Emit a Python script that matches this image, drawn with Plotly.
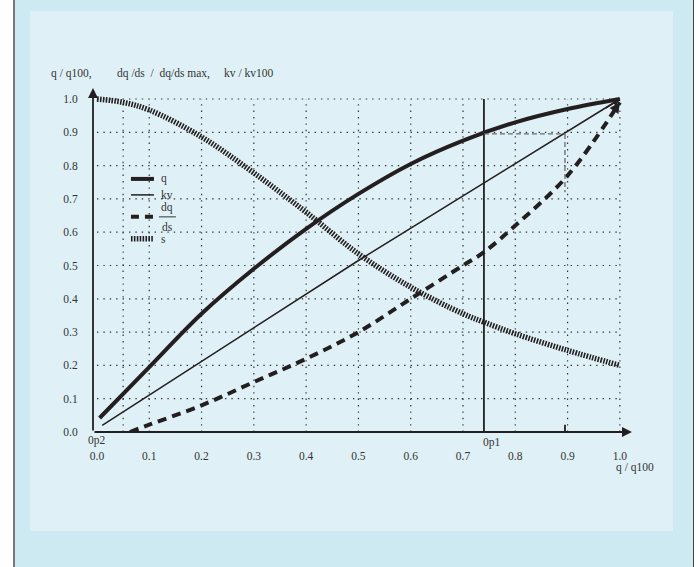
import plotly.graph_objects as go

# ---------------- data ----------------
tick_vals = [0.0, 0.1, 0.2, 0.3, 0.4, 0.5, 0.6, 0.7, 0.8, 0.9, 1.0]
tick_text = ["0.0", "0.1", "0.2", "0.3", "0.4", "0.5", "0.6", "0.7", "0.8", "0.9", "1.0"]
extra_vgrid = [0.05]

q_x = [0.005, 0.1, 0.2, 0.3, 0.4, 0.5, 0.6, 0.7, 0.8, 0.9, 1.0]
q_y = [0.042, 0.195, 0.355, 0.49, 0.61, 0.715, 0.805, 0.875, 0.93, 0.97, 1.0]

kv_x = [0.01, 0.5, 1.0]
kv_y = [0.02, 0.515, 1.0]

dq_x = [0.063, 0.1, 0.2, 0.3, 0.4, 0.5, 0.6, 0.7, 0.74, 0.8, 0.9, 1.0]
dq_y = [0.0, 0.022, 0.08, 0.15, 0.22, 0.30, 0.40, 0.50, 0.54, 0.62, 0.77, 0.99]

s_x = [0.0, 0.05, 0.1, 0.2, 0.3, 0.4, 0.5, 0.6, 0.7, 0.74, 0.8, 0.9, 1.0]
s_y = [1.0, 0.99, 0.967, 0.886, 0.778, 0.66, 0.535, 0.435, 0.355, 0.33, 0.295, 0.245, 0.2]

op1_x = 0.74          # operating point 1
op_q = 0.895          # q at op1
op_x2 = 0.895         # second marker on x axis
op_dq = 0.72

legend_names = ["q", "kv", "dq/ds", "s"]

# ---------------- style ----------------
INK = "#231f20"
TXT = "#333333"
FONT = "Liberation Serif"
W, H = 698, 567
L, R, T, B = 93, 64, 86, 135
PW, PH = W - L - R, H - T - B


def px(xp):
    return (xp - L) / PW


def py(yp):
    return (H - B - yp) / PH


fig = go.Figure()

# curves
fig.add_trace(go.Scatter(x=s_x, y=s_y, mode="lines", hoverinfo="skip",
                         line=dict(color=INK, width=5.5, dash="1.6px,1.3px", shape="spline")))
fig.add_trace(go.Scatter(x=kv_x, y=kv_y, mode="lines", hoverinfo="skip",
                         line=dict(color=INK, width=1.5)))
fig.add_trace(go.Scatter(x=dq_x, y=dq_y, mode="lines", hoverinfo="skip",
                         line=dict(color=INK, width=4, dash="9px,6px", shape="spline")))
fig.add_trace(go.Scatter(x=q_x, y=q_y, mode="lines", hoverinfo="skip",
                         line=dict(color=INK, width=4, shape="spline")))

shapes = []
# backgrounds
shapes.append(dict(type="rect", xref="paper", yref="paper", layer="below",
                   x0=px(13), x1=px(694), y0=py(0), y1=py(567),
                   fillcolor="#cdeaf3", line=dict(width=0)))
shapes.append(dict(type="rect", xref="paper", yref="paper", layer="below",
                   x0=px(30), x1=px(673), y0=py(11), y1=py(531),
                   fillcolor="#dff1f6", line=dict(width=0)))
shapes.append(dict(type="line", xref="paper", yref="paper", layer="below",
                   x0=px(14), x1=px(14), y0=py(0), y1=py(567),
                   line=dict(color="#7a7a7a", width=2)))
shapes.append(dict(type="line", xref="paper", yref="paper", layer="below",
                   x0=px(693.5), x1=px(693.5), y0=py(0), y1=py(567),
                   line=dict(color="#444444", width=1)))

# grid
grid_line = dict(color="#333333", width=1.2, dash="1.4px,5px")
for v in tick_vals[1:]:
    shapes.append(dict(type="line", xref="x", yref="y", layer="below",
                       x0=0, x1=1.0, y0=v, y1=v, line=grid_line))
for v in extra_vgrid + tick_vals[1:]:
    shapes.append(dict(type="line", xref="x", yref="y", layer="below",
                       x0=v, x1=v, y0=0, y1=1.0, line=grid_line))

# operating point lines
shapes.append(dict(type="line", xref="x", yref="y", x0=op1_x, x1=op1_x, y0=0, y1=1.0,
                   line=dict(color=INK, width=1.8)))
shapes.append(dict(type="line", xref="x", yref="y", x0=op1_x, x1=op_x2, y0=op_q, y1=op_q,
                   line=dict(color="#6a6a6a", width=1.3, dash="5px,3px")))
shapes.append(dict(type="line", xref="x", yref="y", x0=op_x2, x1=op_x2, y0=op_q, y1=op_dq,
                   line=dict(color="#6a6a6a", width=1.3, dash="5px,3px")))
shapes.append(dict(type="line", xref="x", yref="y", x0=op_x2, x1=op_x2, y0=-0.024, y1=0.022,
                   line=dict(color=INK, width=1.8)))

# legend samples (drawn by hand)
leg_x0, leg_x1 = 0.065, 0.109
leg_y = [0.76, 0.712, 0.646, 0.58]
leg_styles = [dict(color=INK, width=4),
              dict(color=INK, width=1.5),
              dict(color=INK, width=4, dash="8px,6px"),
              dict(color=INK, width=5.5, dash="1.6px,1.3px")]
for yy, st in zip(leg_y, leg_styles):
    shapes.append(dict(type="line", xref="x", yref="y", x0=leg_x0, x1=leg_x1,
                       y0=yy, y1=yy, line=st))
# fraction bar
shapes.append(dict(type="line", xref="x", yref="y", x0=0.1185, x1=0.151,
                   y0=leg_y[2], y1=leg_y[2], line=dict(color=TXT, width=1)))

annotations = []
tf = dict(family=FONT, size=11.5, color=TXT)
for name, yy in [("q", leg_y[0]), ("kv", leg_y[1]), ("s", leg_y[3])]:
    annotations.append(dict(x=0.119, y=yy, xref="x", yref="y", text=name,
                            showarrow=False, xanchor="left", font=tf))
annotations.append(dict(x=0.1345, y=leg_y[2] + 0.027, xref="x", yref="y", text="dq",
                        showarrow=False, xanchor="center", font=tf))
annotations.append(dict(x=0.1345, y=leg_y[2] - 0.029, xref="x", yref="y", text="ds",
                        showarrow=False, xanchor="center", font=tf))

# axis arrows
annotations.append(dict(x=1.023, y=0, ax=-0.0076, ay=0, xref="x", yref="y",
                        axref="x", ayref="y", text="", showarrow=True,
                        arrowhead=2, arrowsize=1.1, arrowwidth=1.8, arrowcolor=INK, standoff=0))
annotations.append(dict(x=-0.0076, y=1.033, ax=-0.0076, ay=0, xref="x", yref="y",
                        axref="x", ayref="y", text="", showarrow=True,
                        arrowhead=2, arrowsize=1.1, arrowwidth=1.8, arrowcolor=INK, standoff=0))
# end arrows of kv and dq/ds
annotations.append(dict(x=kv_x[-1], y=kv_y[-1], ax=0.97, ay=0.97, xref="x", yref="y",
                        axref="x", ayref="y", text="", showarrow=True,
                        arrowhead=2, arrowsize=1.0, arrowwidth=1.5, arrowcolor=INK, standoff=0))
annotations.append(dict(x=dq_x[-1], y=dq_y[-1], ax=0.985, ay=0.955, xref="x", yref="y",
                        axref="x", ayref="y", text="", showarrow=True,
                        arrowhead=2, arrowsize=0.7, arrowwidth=3, arrowcolor=INK, standoff=0))

# texts
annotations.append(dict(x=px(49), y=py(73), xref="paper", yref="paper", text="q / q100,",
                        showarrow=False, xanchor="left", yanchor="middle", font=tf))
annotations.append(dict(x=px(115), y=py(73), xref="paper", yref="paper",
                        text="dq /ds \u00a0/\u00a0 dq/ds max,",
                        showarrow=False, xanchor="left", yanchor="middle", font=tf))
annotations.append(dict(x=px(222), y=py(73), xref="paper", yref="paper", text="kv / kv100",
                        showarrow=False, xanchor="left", yanchor="middle", font=tf))
annotations.append(dict(x=1.0, y=py(467), xref="x", yref="paper", text="q / q100",
                        showarrow=False, xanchor="left", xshift=-6, yanchor="middle", font=tf))
annotations.append(dict(x=0.0, y=py(440), xref="x", yref="paper", text="0p2",
                        showarrow=False, xanchor="center", yanchor="middle", font=tf))
annotations.append(dict(x=op1_x + 0.016, y=py(442), xref="x", yref="paper", text="0p1",
                        showarrow=False, xanchor="center", yanchor="middle", font=tf))

fig.update_layout(
    width=W, height=H, autosize=False,
    margin=dict(l=L, r=R, t=T, b=B, pad=0),
    paper_bgcolor="white", plot_bgcolor="rgba(0,0,0,0)",
    showlegend=False,
    shapes=shapes, annotations=annotations,
    font=tf,
)
fig.update_xaxes(range=[-0.0076, 1.027], tickvals=tick_vals, ticktext=tick_text,
                 showgrid=False, zeroline=False, showline=False,
                 ticks="outside", ticklen=13, tickcolor="rgba(0,0,0,0)",
                 tickfont=tf, fixedrange=True)
fig.update_yaxes(range=[0, 1.039], tickvals=tick_vals, ticktext=tick_text,
                 showgrid=False, zeroline=False, showline=False,
                 ticks="outside", ticklen=12, tickcolor="rgba(0,0,0,0)",
                 tickfont=tf, fixedrange=True)

fig.write_html("out.html", config={"displayModeBar": False},
               post_script="document.body.style.margin='0';document.body.style.overflow='hidden';")
